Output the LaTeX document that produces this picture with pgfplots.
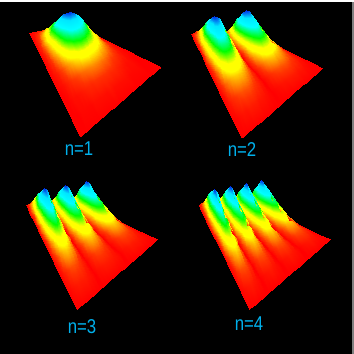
\documentclass[border=0pt]{standalone}
\usepackage{pgfplots}
\pgfplotsset{compat=1.18}
\usepackage{fontspec}
\setmainfont{Liberation Sans}
\definecolor{lab}{RGB}{0,176,235}
\newcommand\pU{(mod(\coordindex,25)/24)}
\newcommand\pT{(floor(\coordindex/25)/10)}
\newcommand\pV{(0.3*\pT+0.7*\pT*\pT)}
\pgfplotsset{/pgfplots/table/panel/.style 2 args={
  row sep=crcr,
  x expr={#1+(1-\pV)*((1-\pU)*29.3+\pU*89)+\pV*((1-\pU)*80+\pU*160.7)},
  y expr={354-(#2+(1-\pV)*((1-\pU)*32.7+\pU*32)+\pV*((1-\pU)*136.7+\pU*66.7))+0.31*\thisrow{h}}
},
lob/.style={surf,shader=interp,mesh/cols=25,point meta=\thisrow{h}}}
\begin{document}
\begin{tikzpicture}
\useasboundingbox (0,0) rectangle (354pt,354pt);
\fill[white] (0,0) rectangle (354pt,354pt);
\fill[black] (0,0) rectangle (352pt,352pt);
\fill[gray] (352pt,0) rectangle (354pt,352pt);
\begin{axis}[at={(0,0)},anchor=south west,x={(1pt,0)},y={(0,1pt)},
  xmin=0,xmax=354,ymin=0,ymax=354,hide axis,clip=false,
  point meta min=0,point meta max=100,
  colormap={rb}{rgb255(0)=(255,0,0) rgb255(8)=(255,50,0) rgb255(20)=(255,170,0) rgb255(28)=(255,255,0) rgb255(37)=(255,255,0) rgb255(52)=(0,255,0) rgb255(70)=(0,255,255) rgb255(86)=(0,230,255) rgb255(100)=(0,40,230)}]
% n=1
\addplot[lob] table[panel={0}{0}]{h\\
0\\1\\2\\4\\5\\7\\9\\11\\12\\13\\14\\15\\15\\15\\14\\13\\12\\11\\9\\7\\5\\4\\2\\1\\0\\
0\\2\\5\\10\\14\\19\\24\\28\\32\\35\\38\\39\\40\\39\\38\\35\\32\\28\\24\\19\\14\\10\\5\\2\\0\\
0\\4\\9\\17\\25\\34\\42\\50\\58\\63\\68\\71\\72\\71\\68\\63\\58\\50\\42\\34\\25\\17\\9\\4\\0\\
0\\5\\13\\24\\35\\47\\59\\70\\81\\88\\95\\98\\100\\98\\95\\88\\81\\70\\59\\47\\35\\24\\13\\5\\0\\
0\\4\\10\\19\\27\\37\\46\\55\\63\\69\\74\\76\\78\\76\\74\\69\\63\\55\\46\\37\\27\\19\\10\\4\\0\\
0\\3\\7\\13\\19\\26\\32\\39\\45\\48\\52\\54\\55\\54\\52\\48\\45\\39\\32\\26\\19\\13\\7\\3\\0\\
0\\2\\4\\8\\11\\15\\19\\22\\26\\28\\30\\31\\32\\31\\30\\28\\26\\22\\19\\15\\11\\8\\4\\2\\0\\
0\\1\\2\\4\\6\\8\\9\\11\\13\\14\\15\\16\\16\\16\\15\\14\\13\\11\\9\\8\\6\\4\\2\\1\\0\\
0\\0\\1\\2\\2\\3\\4\\5\\6\\6\\7\\7\\7\\7\\7\\6\\6\\5\\4\\3\\2\\2\\1\\0\\0\\
0\\0\\0\\1\\1\\1\\1\\2\\2\\2\\2\\2\\3\\2\\2\\2\\2\\2\\1\\1\\1\\1\\0\\0\\0\\
0\\0\\0\\0\\0\\0\\0\\0\\0\\0\\0\\0\\0\\0\\0\\0\\0\\0\\0\\0\\0\\0\\0\\0\\0\\
};
% n=2
\addplot[lob] table[panel={161.7}{1.3}]{h\\
0\\4\\8\\11\\13\\15\\15\\15\\13\\11\\8\\4\\0\\4\\8\\11\\13\\15\\15\\15\\13\\11\\8\\4\\0\\
0\\10\\20\\28\\35\\39\\40\\39\\35\\28\\20\\10\\0\\10\\20\\28\\35\\39\\40\\39\\35\\28\\20\\10\\0\\
0\\19\\36\\51\\63\\70\\72\\70\\63\\51\\36\\19\\0\\19\\36\\51\\63\\70\\72\\70\\63\\51\\36\\19\\0\\
0\\26\\50\\71\\87\\97\\100\\97\\87\\71\\50\\26\\0\\26\\50\\71\\87\\97\\100\\97\\87\\71\\50\\26\\0\\
0\\21\\41\\58\\71\\80\\82\\80\\71\\58\\41\\21\\0\\21\\41\\58\\71\\80\\82\\80\\71\\58\\41\\21\\0\\
0\\16\\32\\45\\55\\61\\63\\61\\55\\45\\32\\16\\0\\16\\32\\45\\55\\61\\63\\61\\55\\45\\32\\16\\0\\
0\\11\\21\\30\\37\\41\\42\\41\\37\\30\\21\\11\\0\\11\\21\\30\\37\\41\\42\\41\\37\\30\\21\\11\\0\\
0\\6\\12\\17\\21\\23\\24\\23\\21\\17\\12\\6\\0\\6\\12\\17\\21\\23\\24\\23\\21\\17\\12\\6\\0\\
0\\3\\6\\8\\10\\11\\11\\11\\10\\8\\6\\3\\0\\3\\6\\8\\10\\11\\11\\11\\10\\8\\6\\3\\0\\
0\\1\\2\\3\\3\\4\\4\\4\\3\\3\\2\\1\\0\\1\\2\\3\\3\\4\\4\\4\\3\\3\\2\\1\\0\\
0\\0\\0\\0\\0\\0\\0\\0\\0\\0\\0\\0\\0\\0\\0\\0\\0\\0\\0\\0\\0\\0\\0\\0\\0\\
};
% n=3
\addplot[lob] table[panel={-3.3}{172.7}]{h\\
0\\6\\11\\14\\15\\14\\11\\6\\0\\6\\11\\14\\15\\14\\11\\6\\0\\6\\11\\14\\15\\14\\11\\6\\0\\
0\\15\\28\\37\\40\\37\\28\\15\\0\\15\\28\\37\\40\\37\\28\\15\\0\\15\\28\\37\\40\\37\\28\\15\\0\\
0\\27\\51\\66\\72\\66\\51\\27\\0\\27\\51\\66\\72\\66\\51\\27\\0\\27\\51\\66\\72\\66\\51\\27\\0\\
0\\38\\71\\92\\100\\92\\71\\38\\0\\38\\71\\92\\100\\92\\71\\38\\0\\38\\71\\92\\100\\92\\71\\38\\0\\
0\\31\\58\\75\\82\\75\\58\\31\\0\\31\\58\\75\\82\\75\\58\\31\\0\\31\\58\\75\\82\\75\\58\\31\\0\\
0\\24\\45\\58\\63\\58\\45\\24\\0\\24\\45\\58\\63\\58\\45\\24\\0\\24\\45\\58\\63\\58\\45\\24\\0\\
0\\16\\30\\39\\42\\39\\30\\16\\0\\16\\30\\39\\42\\39\\30\\16\\0\\16\\30\\39\\42\\39\\30\\16\\0\\
0\\9\\17\\22\\24\\22\\17\\9\\0\\9\\17\\22\\24\\22\\17\\9\\0\\9\\17\\22\\24\\22\\17\\9\\0\\
0\\4\\8\\10\\11\\10\\8\\4\\0\\4\\8\\10\\11\\10\\8\\4\\0\\4\\8\\10\\11\\10\\8\\4\\0\\
0\\2\\3\\4\\4\\4\\3\\2\\0\\2\\3\\4\\4\\4\\3\\2\\0\\2\\3\\4\\4\\4\\3\\2\\0\\
0\\0\\0\\0\\0\\0\\0\\0\\0\\0\\0\\0\\0\\0\\0\\0\\0\\0\\0\\0\\0\\0\\0\\0\\0\\
};
% n=4
\addplot[lob] table[panel={169.3}{172.7}]{h\\
0\\8\\13\\15\\13\\8\\0\\8\\13\\15\\13\\8\\0\\8\\13\\15\\13\\8\\0\\8\\13\\15\\13\\8\\0\\
0\\20\\35\\40\\35\\20\\0\\20\\35\\40\\35\\20\\0\\20\\35\\40\\35\\20\\0\\20\\35\\40\\35\\20\\0\\
0\\36\\63\\72\\63\\36\\0\\36\\63\\72\\63\\36\\0\\36\\63\\72\\63\\36\\0\\36\\63\\72\\63\\36\\0\\
0\\50\\87\\100\\87\\50\\0\\50\\87\\100\\87\\50\\0\\50\\87\\100\\87\\50\\0\\50\\87\\100\\87\\50\\0\\
0\\41\\71\\82\\71\\41\\0\\41\\71\\82\\71\\41\\0\\41\\71\\82\\71\\41\\0\\41\\71\\82\\71\\41\\0\\
0\\32\\55\\63\\55\\32\\0\\32\\55\\63\\55\\32\\0\\32\\55\\63\\55\\32\\0\\32\\55\\63\\55\\32\\0\\
0\\21\\37\\42\\37\\21\\0\\21\\37\\42\\37\\21\\0\\21\\37\\42\\37\\21\\0\\21\\37\\42\\37\\21\\0\\
0\\12\\21\\24\\21\\12\\0\\12\\21\\24\\21\\12\\0\\12\\21\\24\\21\\12\\0\\12\\21\\24\\21\\12\\0\\
0\\6\\10\\11\\10\\6\\0\\6\\10\\11\\10\\6\\0\\6\\10\\11\\10\\6\\0\\6\\10\\11\\10\\6\\0\\
0\\2\\3\\4\\3\\2\\0\\2\\3\\4\\3\\2\\0\\2\\3\\4\\3\\2\\0\\2\\3\\4\\3\\2\\0\\
0\\0\\0\\0\\0\\0\\0\\0\\0\\0\\0\\0\\0\\0\\0\\0\\0\\0\\0\\0\\0\\0\\0\\0\\0\\
};
\node[text=lab,font=\fontsize{20}{20}\selectfont,xscale=.84] at (axis cs:79,205) {n=1};
\node[text=lab,font=\fontsize{20}{20}\selectfont,xscale=.84] at (axis cs:242,204) {n=2};
\node[text=lab,font=\fontsize{20}{20}\selectfont,xscale=.84] at (axis cs:82,27) {n=3};
\node[text=lab,font=\fontsize{20}{20}\selectfont,xscale=.84] at (axis cs:249,30) {n=4};
\end{axis}
\end{tikzpicture}
\end{document}
